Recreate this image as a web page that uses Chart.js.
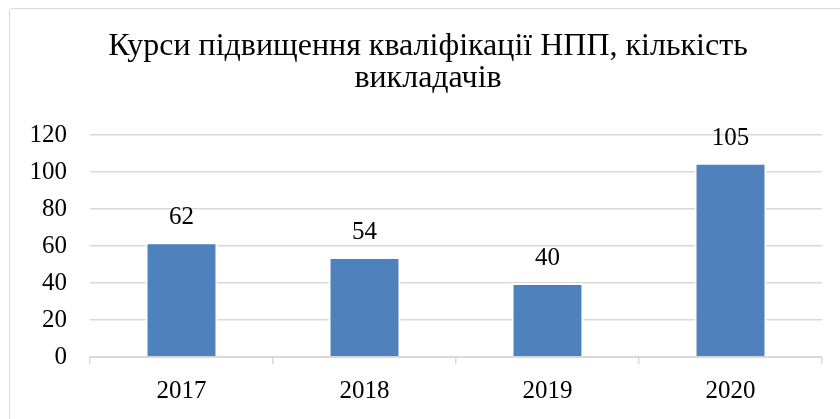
<!DOCTYPE html>
<html>
<head>
<meta charset="utf-8">
<script src="https://cdn.jsdelivr.net/npm/chart.js@4.4.1/dist/chart.umd.min.js"></script>
<style>
  html, body { margin: 0; padding: 0; background: #fff; overflow: hidden; }
  #wrap { position: relative; width: 840px; height: 419px; }
  #frame { position: absolute; left: 9px; top: 8px; width: 900px; height: 500px; border: 1px solid #d9d9d9; border-radius: 3px; }
  #chart { position: absolute; left: 0; top: 0; }
</style>
</head>
<body>
<div id="wrap">
  <div id="frame"></div>
  <canvas id="chart" width="840" height="419"></canvas>
</div>
<script>
  var titleLines = ['Курси підвищення кваліфікації НПП, кількість', 'викладачів'];
  var years = ['2017', '2018', '2019', '2020'];
  var teachers = [62, 54, 40, 105];
  var yMax = 120;
  var yStep = 20;

  var serif = '"Liberation Serif", "Times New Roman", serif';

  // value labels above each bar, placed from the bar elements
  var valueLabels = {
    id: 'valueLabels',
    afterDatasetsDraw: function (chart) {
      var ctx = chart.ctx;
      var meta = chart.getDatasetMeta(0);
      ctx.save();
      ctx.font = '25px ' + serif;
      ctx.fillStyle = '#000';
      ctx.textAlign = 'center';
      ctx.textBaseline = 'alphabetic';
      meta.data.forEach(function (bar, i) {
        ctx.fillText(String(teachers[i]), bar.x, bar.y - 18);
      });
      ctx.restore();
    }
  };

  new Chart(document.getElementById('chart'), {
    type: 'bar',
    data: {
      labels: years,
      datasets: [{
        data: teachers,
        backgroundColor: '#4f81bd',
        borderColor: '#ffffff',
        borderWidth: 2,
        borderSkipped: 'start',
        categoryPercentage: 1,
        barPercentage: 0.393
      }]
    },
    options: {
      responsive: false,
      animation: false,
      layout: { padding: { left: 26, right: 10, top: 0, bottom: 0 } },
      plugins: {
        legend: { display: false },
        tooltip: { enabled: false },
        title: {
          display: true,
          text: titleLines,
          color: '#000',
          font: { family: serif, size: 32, weight: 'normal', lineHeight: 1.0 },
          padding: { top: 31, bottom: 40 }
        }
      },
      scales: {
        x: {
          grid: {
            display: true,
            drawOnChartArea: false,
            drawTicks: true,
            tickLength: 7,
            color: '#d9d9d9',
            lineWidth: 1.5,
            offset: true
          },
          border: { display: true, color: '#d9d9d9', width: 2 },
          ticks: { color: '#000', font: { family: serif, size: 25 }, padding: 12 },
          afterFit: function (scale) { scale.height = 62; }
        },
        y: {
          min: 0,
          max: yMax,
          ticks: { stepSize: yStep, color: '#000', font: { family: serif, size: 25 }, padding: 23 },
          grid: { color: '#d9d9d9', lineWidth: 1.5, drawTicks: false },
          border: { display: false },
          afterFit: function (scale) { scale.width = 64; }
        },
        // empty strip on the right so the plot ends where the reference does
        yRight: {
          position: 'right',
          ticks: { display: false },
          grid: { display: false, drawTicks: false },
          border: { display: false },
          afterFit: function (scale) { scale.width = 8; }
        }
      }
    },
    plugins: [valueLabels]
  });
</script>
</body>
</html>
